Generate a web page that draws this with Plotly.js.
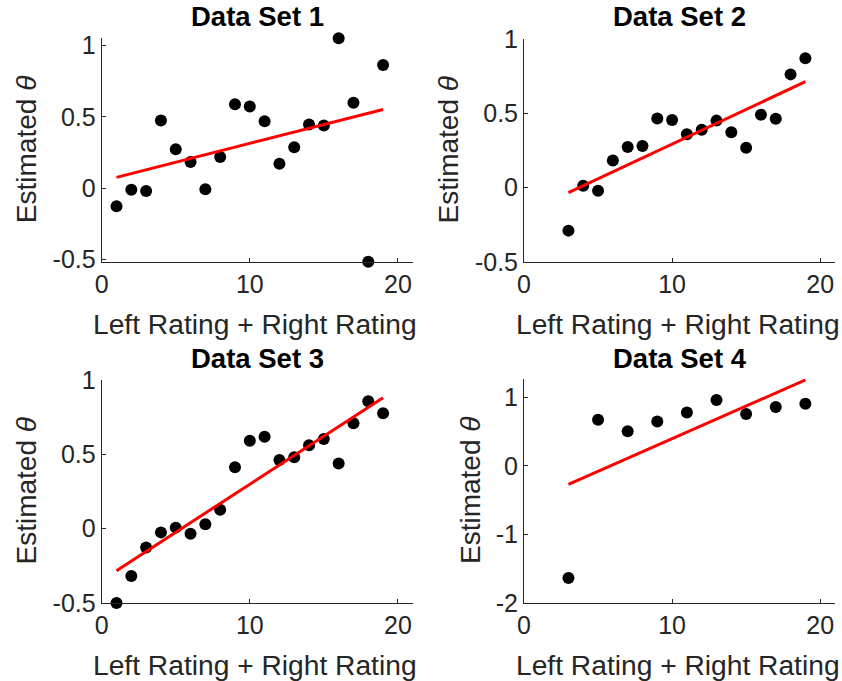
<!DOCTYPE html>
<html><head><meta charset="utf-8">
<script src="https://cdn.plot.ly/plotly-3.0.1.min.js"></script>
<style>html,body{margin:0;padding:0;background:#fff}</style>
</head><body><div id="chart" style="width:842px;height:681px"></div>
<script>
// Data Set 1
const x1 = [1,2,3,4,5,6,7,8,9,10,11,12,13,14,15,16,17,18,19];
const y1 = [-0.129,-0.012,-0.021,0.474,0.272,0.183,-0.009,0.218,0.589,0.573,0.469,0.171,0.286,0.446,0.439,1.052,0.599,-0.519,0.864];
const fitX1 = [1,19], fitY1 = [0.075,0.552];
// Data Set 2
const x2 = [3,4,5,6,7,8,9,10,11,12,13,14,15,16,17,18,19];
const y2 = [-0.289,0.013,-0.020,0.182,0.274,0.280,0.466,0.455,0.359,0.390,0.451,0.372,0.269,0.491,0.464,0.762,0.870];
const fitX2 = [3,19], fitY2 = [-0.034,0.713];
// Data Set 3
const x3 = [1,2,3,4,5,6,7,8,9,10,11,12,13,14,15,16,17,18,19];
const y3 = [-0.5,-0.318,-0.126,-0.025,0.007,-0.034,0.029,0.128,0.413,0.592,0.619,0.462,0.480,0.561,0.603,0.439,0.709,0.857,0.776];
const fitX3 = [1,19], fitY3 = [-0.283,0.881];
// Data Set 4
const x4 = [3,5,7,9,11,13,15,17,19];
const y4 = [-1.634,0.673,0.507,0.649,0.780,0.961,0.756,0.859,0.907];
const fitX4 = [3,19], fitY4 = [-0.268,1.254];

const titles = ['Data Set 1','Data Set 2','Data Set 3','Data Set 4'];
const xTitle = 'Left Rating + Right Rating';
const yTitle = 'Estimated <i>θ</i>';
const xTicks = [0,10,20];
const yTicks1 = [-0.5,0,0.5,1], yTickText1 = ['-0.5','0','0.5','1'];
const yTicks4 = [-2,-1,0,1], yTickText4 = ['-2','-1','0','1'];
const yRanges = [[-0.52,1.052],[-0.5,1],[-0.5,1],[-2,1.268]];

const W = 842, H = 681;
const FONT = 'Liberation Sans, Arial, Helvetica, sans-serif';
const AX = '#262626';

const sets = [[x1,y1,fitX1,fitY1],[x2,y2,fitX2,fitY2],[x3,y3,fitX3,fitY3],[x4,y4,fitX4,fitY4]];
const xDom = [[101.7/W,412.7/W],[524/W,835/W]];
const yDomPx = [[38.3,262],[39,262],[380,603],[379,603]];
const yTitleXPx = [26,448,26,470];

const traces = [];
const layout = {
  width: W, height: H, margin:{l:0,r:0,t:0,b:0},
  paper_bgcolor:'#fff', plot_bgcolor:'#fff', showlegend:false,
  font:{family:FONT, color:AX},
  annotations:[]
};
sets.forEach((s,i)=>{
  const n = i+1;
  const xa = 'x'+(n===1?'':n), ya = 'y'+(n===1?'':n);
  traces.push({x:s[0], y:s[1], xaxis:xa, yaxis:ya, type:'scatter', mode:'markers',
    marker:{color:'#000', size:12}, cliponaxis:false, hoverinfo:'skip'});
  traces.push({x:s[2], y:s[3], xaxis:xa, yaxis:ya, type:'scatter', mode:'lines',
    line:{color:'#ff0000', width:3}, cliponaxis:false, hoverinfo:'skip'});
  const col = i%2, row = Math.floor(i/2);
  const yd = [1-yDomPx[i][1]/H, 1-yDomPx[i][0]/H];
  const yt = (i===3)? yTicks4 : yTicks1, ytt = (i===3)? yTickText4 : yTickText1;
  layout['xaxis'+(n===1?'':n)] = {domain:xDom[col], range:[0,21], anchor:ya,
    tickvals:xTicks, ticktext:xTicks.map(String), ticks:'inside', ticklen:4, tickcolor:AX, tickwidth:1,
    showline:true, linecolor:AX, linewidth:1, showgrid:false, zeroline:false,
    tickfont:{size:25, family:FONT, color:AX}, fixedrange:true};
  layout['yaxis'+(n===1?'':n)] = {domain:yd, range:yRanges[i], anchor:xa,
    tickvals:yt, ticktext:ytt, ticks:'inside', ticklen:4, tickcolor:AX, tickwidth:1,
    showline:true, linecolor:AX, linewidth:1, showgrid:false, zeroline:false,
    tickfont:{size:25, family:FONT, color:AX}, fixedrange:true};
  const cx = (xDom[col][0]+xDom[col][1])/2;
  layout.annotations.push({text:'<b>'+titles[i]+'</b>', xref:'paper', yref:'paper',
    x:cx, y:1-(row===0?17:358)/H, xanchor:'center', yanchor:'middle', showarrow:false,
    font:{size:27.5, family:FONT, color:'#000'}});
  layout.annotations.push({text:xTitle, xref:'paper', yref:'paper',
    x:(cx*W-2)/W, y:1-(yDomPx[i][1]+62)/H, xanchor:'center', yanchor:'middle', showarrow:false,
    font:{size:28.2, family:FONT, color:AX}});
  layout.annotations.push({text:yTitle, xref:'paper', yref:'paper', textangle:-90,
    x:yTitleXPx[i]/W, y:1-((yDomPx[i][0]+yDomPx[i][1])/2)/H, xanchor:'center', yanchor:'middle', showarrow:false,
    font:{size:28, family:FONT, color:AX}});
});
Plotly.newPlot('chart', traces, layout, {displayModeBar:false, staticPlot:true});
</script></body></html>
